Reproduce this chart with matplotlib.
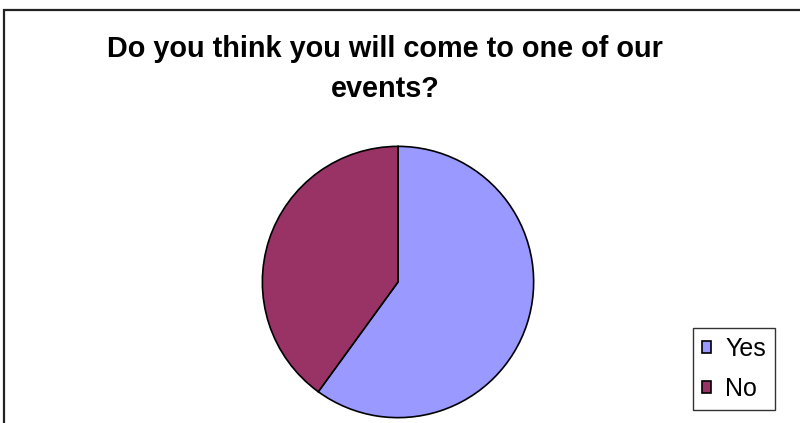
import matplotlib.pyplot as plt
from matplotlib.patches import Rectangle

labels = ["Yes", "No"]
values = [60, 40]
colors = ["#9999FF", "#993366"]
title = "Do you think you will come to one of our\nevents?"

W, H = 800, 423
fig = plt.figure(figsize=(W / 100, H / 100), dpi=100)
plt.rcParams['font.family'] = ['Liberation Sans', 'DejaVu Sans']

# outer chart frame (runs off the right and bottom edges)
fig.patches.append(Rectangle((4 / W, -0.1), 1.2, 1.1 - 10 / H,
                             transform=fig.transFigure, fill=False,
                             edgecolor="#222222", linewidth=1.6))

fig.text(385 / W, 1 - 69 / H, title, ha="center", va="center",
         fontsize=20.8, fontweight="bold", linespacing=1.55)

ax = fig.add_axes([261 / W, (H - 419) / H, 274 / W, 274 / H])
wedges, _ = ax.pie(values, colors=colors, startangle=90, counterclock=False,
                   wedgeprops=dict(edgecolor="black", linewidth=1.2))
ax.set_xlim(-1.01, 1.01)
ax.set_ylim(-1.01, 1.01)
ax.set_aspect("equal")

leg = fig.legend(wedges, labels, loc="upper left",
                 bbox_to_anchor=(693 / W, 1 - 328 / H),
                 bbox_transform=fig.transFigure, borderaxespad=0,
                 fontsize=18, fancybox=False, handlelength=0.38,
                 handleheight=0.38, handletextpad=0.55, labelspacing=0.65,
                 borderpad=0.35)
leg.get_frame().set_edgecolor("black")
leg.get_frame().set_linewidth(1.0)

fig.savefig("out.png", dpi=100)
